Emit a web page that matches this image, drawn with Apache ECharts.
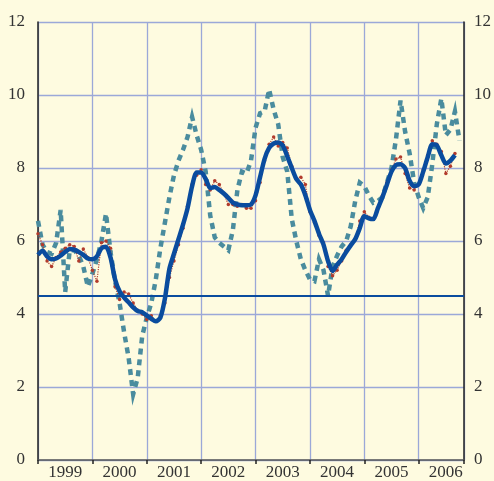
<!DOCTYPE html>
<html>
<head>
<meta charset="utf-8">
<script src="https://cdn.jsdelivr.net/npm/echarts@6/dist/echarts.min.js"></script>
<style>
html,body{margin:0;padding:0;background:#fefbe0;overflow:hidden;}
#c{width:494px;height:481px;}
</style>
</head>
<body>
<div id="c"></div>
<script>
// Monthly data, Jan 1999 (index 0) onward
const years = ['1999','2000','2001','2002','2003','2004','2005','2006'];
const yTicks = [0,2,4,6,8,10,12];
const reference = 4.5;

const smoothed = [5.62,5.73,5.58,5.5,5.52,5.6,5.7,5.78,5.76,5.7,5.62,5.52,
  5.5,5.58,5.8,5.84,5.55,4.95,4.62,4.45,4.32,4.18,4.08,4.05,
  3.96,3.87,3.8,3.9,4.42,5.24,5.65,6.05,6.45,6.9,7.5,7.88,
  7.88,7.7,7.45,7.48,7.4,7.3,7.18,7.05,7.0,6.98,6.98,7.0,
  7.25,7.75,8.25,8.55,8.67,8.7,8.62,8.32,8.0,7.7,7.55,7.25,
  6.85,6.55,6.2,5.9,5.45,5.18,5.35,5.5,5.7,5.88,6.05,6.35,
  6.68,6.62,6.6,6.9,7.2,7.55,7.9,8.08,8.1,8.0,7.65,7.5,
  7.55,7.9,8.3,8.65,8.62,8.35,8.12,8.2,8.35];

const monthly = [6.2,5.9,5.45,5.3,5.55,5.7,5.8,5.9,5.85,5.45,5.78,5.55,
  5.2,4.9,5.95,6.0,5.8,4.75,4.4,4.6,4.55,4.3,4.1,4.0,
  3.85,3.95,3.8,3.95,4.3,5.0,5.45,5.9,6.35,6.95,7.55,7.8,
  7.95,7.55,7.4,7.65,7.55,7.3,7.0,7.0,6.95,7.0,6.9,6.9,
  7.1,7.6,8.2,8.65,8.85,8.6,8.7,8.55,8.05,7.7,7.75,7.55,
  6.8,6.5,6.15,5.95,5.3,5.05,5.2,5.45,5.75,5.9,6.05,6.55,
  6.8,6.65,6.6,6.9,7.25,7.6,7.95,8.25,8.3,7.85,7.45,7.4,
  7.55,7.95,8.35,8.75,8.65,8.45,7.85,8.05,8.4];

const other = [6.55,5.9,5.7,5.65,5.95,6.85,4.6,5.75,5.75,5.6,5.3,4.75,
  5.1,5.5,6.0,6.75,5.7,4.9,4.3,3.5,2.8,1.8,2.25,3.4,
  3.9,4.3,4.95,5.8,6.5,7.2,7.8,8.2,8.5,8.85,9.4,8.9,
  8.5,7.9,6.7,6.1,5.95,5.85,5.75,6.3,7.4,7.9,7.85,8.2,
  9.1,9.5,9.55,10.15,9.6,9.2,8.3,7.9,6.6,6.0,5.5,5.2,
  4.95,4.9,5.5,5.2,4.5,5.3,5.6,5.85,6.0,6.4,7.1,7.6,
  7.5,7.25,7.05,7.1,7.2,7.6,8.0,8.8,9.85,9.0,8.4,7.6,
  7.2,6.9,7.2,8.1,9.2,9.9,8.9,9.05,9.55,8.75];

const toPairs = arr => arr.map((v,i)=>[i,v]);
const yearCenters = years.map((y,i)=>i*12+6);

const chart = echarts.init(document.getElementById('c'));
const font = 'Liberation Serif, Times New Roman, serif';
const gridColor = '#9ba8d8';
chart.setOption({
  backgroundColor:'#fefbe0',
  animation:false,
  grid:{left:38,right:28,top:22,bottom:19,containLabel:false},
  xAxis:{
    type:'value',min:0,max:94,interval:12,
    axisLine:{show:true,onZero:false,lineStyle:{color:'#555',width:1.5}},
    axisTick:{show:true,inside:false,length:4,lineStyle:{color:'#222',width:1.5}},
    splitLine:{show:true,lineStyle:{color:gridColor,width:1.3}},
    axisLabel:{customValues:yearCenters,formatter:v=>years[Math.round((v-6)/12)],
      color:'#333',fontFamily:font,fontSize:17,margin:4}
  },
  yAxis:[{
    type:'value',min:0,max:12,interval:2,position:'left',
    axisLine:{show:true,lineStyle:{color:'#222',width:1.5}},
    axisTick:{show:false},
    splitLine:{show:true,lineStyle:{color:gridColor,width:1.3}},
    axisLabel:{color:'#333',fontFamily:font,fontSize:17,margin:13,
      formatter:v=>yTicks.includes(v)?String(v):''}
  },{
    type:'value',min:0,max:12,interval:2,position:'right',
    axisLine:{show:true,lineStyle:{color:'#222',width:1.5}},
    axisTick:{show:false},
    splitLine:{show:false},
    axisLabel:{color:'#333',fontFamily:font,fontSize:17,margin:10,
      formatter:v=>yTicks.includes(v)?String(v):''}
  }],
  series:[{
    type:'line',data:toPairs(other),symbol:'none',z:2,
    lineStyle:{color:'#4a8c9e',width:4.5,type:[6,5],cap:'butt',join:'miter',miterLimit:6}
  },{
    type:'line',data:toPairs(monthly),symbol:'circle',symbolSize:3.5,z:3,
    itemStyle:{color:'#b23b2c'},
    lineStyle:{color:'#b23b2c',width:1.2,type:'dotted'}
  },{
    type:'line',data:toPairs(smoothed),symbol:'none',z:4,smooth:0.25,
    lineStyle:{color:'#0a4c9e',width:4.5,join:'round'},
    markLine:{silent:true,symbol:'none',label:{show:false},
      lineStyle:{color:'#0a4c9e',width:2,type:'solid'},
      data:[{yAxis:reference}]}
  }]
});
</script>
</body>
</html>
